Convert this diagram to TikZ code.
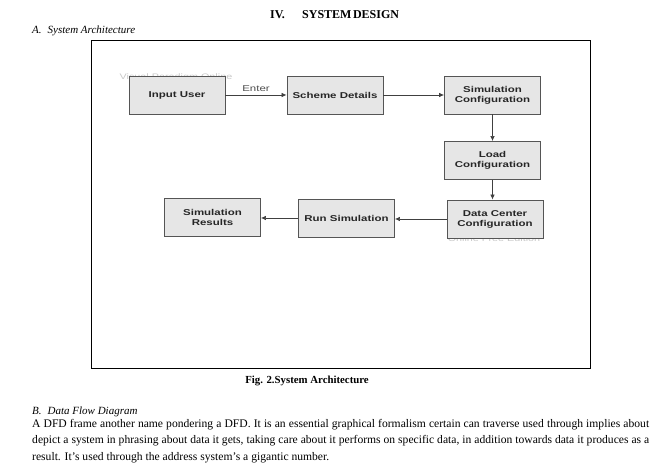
\documentclass[tikz,border=0pt]{standalone}
\usepackage{fontspec}
\setmainfont{Liberation Serif}
\newfontfamily\boxfont[FakeStretch=1.35]{Liberation Sans}
\usetikzlibrary{arrows.meta,calc}
\definecolor{boxfill}{HTML}{E6E6E6}
\definecolor{boxline}{HTML}{555555}
\definecolor{wmark}{HTML}{C8C8C8}
\tikzset{
  procbox/.style={draw=boxline, fill=boxfill, line width=0.9pt, minimum width=96pt,
    minimum height=38pt, inner sep=0pt, align=center, text=black!85,
    font=\boxfont\bfseries\fontsize{8.5}{10}\selectfont},
  flow/.style={draw=black!75, line width=0.7pt, -{Latex[length=5pt,width=4.5pt]}},
  wm/.style={text=wmark, font=\boxfont\fontsize{8}{9}\selectfont, inner sep=0pt},
  bodyline/.style={anchor=base west, inner sep=0pt, font=\fontsize{11.6}{14}\selectfont},
}
\begin{document}
\begin{tikzpicture}[x=1pt,y=-1pt]
\useasboundingbox (0,0) rectangle (667,470);
% headings
\node[anchor=base west, inner sep=0pt, font=\bfseries\fontsize{12}{14}\selectfont] (t1) at (270,19) {IV.};
\node[anchor=base west, inner sep=0pt, font=\bfseries\fontsize{12}{14}\selectfont] (t2) at (302,19) {SYSTEM\hspace{1.5pt}DESIGN};
\node[anchor=base west, inner sep=0pt, font=\itshape\fontsize{11}{13}\selectfont] (sa) at (32,34) {A.\hspace{6pt}System Architecture};
% frame
\draw[line width=1pt] (91,41) rectangle (590,369);
% watermarks
\node[wm] (w1) at (176,77) {Visual Paradigm Online};
\node[wm] (w2) at (494,239) {Online Free Edition};
% boxes
\node[procbox] (iu) at (177,95) {Input User};
\node[procbox] (sd) at (335,95) {Scheme Details};
\node[procbox] (sc) at (492.5,95) {Simulation\\Configuration};
\node[procbox] (lc) at (492.5,160.5) {Load\\Configuration};
\node[procbox] (dc) at (495,219) {Data Center\\Configuration};
\node[procbox] (rs) at (346.5,218) {Run Simulation};
\node[procbox] (sr) at (212.5,217.5) {Simulation\\Results};
% connectors
\draw[flow] (iu.east) -- node[above=3pt, text=black!70, font=\boxfont\fontsize{8.5}{10}\selectfont, inner sep=0pt] {Enter} (sd.west);
\draw[flow] (sd.east) -- (sc.west);
\draw[flow] (sc.south) -- (lc.north);
\draw[flow] (lc.south) -- (lc.south |- dc.north);
\draw[flow] (dc.west) -- (dc.west -| rs.east);
\draw[flow] (rs.west) -- (rs.west -| sr.east);
% caption
\node[anchor=base, inner sep=0pt, font=\bfseries\fontsize{10.8}{13}\selectfont] (cap) at (307,384) {Fig. 2.System Architecture};
% section B
\node[anchor=base west, inner sep=0pt, font=\itshape\fontsize{11}{13}\selectfont] (sb) at (32,414) {B.\hspace{6pt}Data Flow Diagram};
\node[bodyline] (l1) at (32,427) {\makebox[617pt][s]{A DFD frame another name pondering a DFD. It is an essential graphical formalism certain can traverse used through implies about}};
\node[bodyline] (l2) at (32,443.5) {\makebox[617pt][s]{depict a system in phrasing about data it gets, taking care about it performs on specific data, in addition towards data it produces as a}};
\node[bodyline] (l3) at (32,460) {result. It's used through the address system's a gigantic number.};
\end{tikzpicture}
\end{document}
